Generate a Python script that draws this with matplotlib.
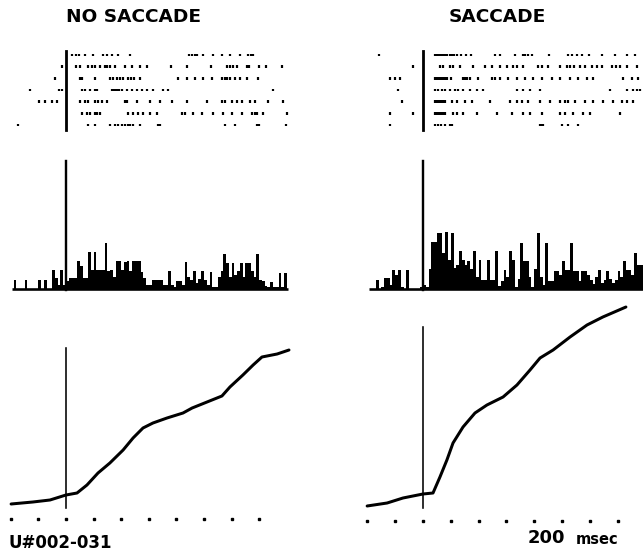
import matplotlib
matplotlib.use("Agg")
import matplotlib.pyplot as plt
import numpy as np

# spike times (ms, aligned on event at 0), one list per trial
raster_nosacc = [
    [22, 36, 47, 69, 98, 134, 149, 167, 188, 232, 446, 457, 467, 475, 496, 533, 565, 594, 630, 659, 670, 678],
    [-14, 36, 51, 80, 94, 105, 123, 141, 149, 159, 178, 214, 239, 268, 294, 380, 438, 525, 583, 594, 605,
     620, 656, 663, 699, 725, 783],
    [-40, 51, 58, 105, 159, 170, 185, 196, 206, 225, 235, 246, 268, 406, 438, 467, 496, 529, 565, 576, 585,
     594, 612, 630, 656, 696],
    [-130, -25, -14, 58, 69, 87, 105, 112, 167, 174, 181, 188, 192, 203, 221, 239, 257, 275, 293, 315, 351,
     370, 750],
    [-98, -76, -51, -33, 51, 69, 80, 105, 116, 130, 149, 214, 221, 257, 304, 341, 384, 438, 511, 565, 576,
     601, 620, 638, 667, 685, 732, 786],
    [58, 76, 87, 105, 112, 123, 225, 243, 261, 279, 304, 330, 420, 431, 460, 493, 533, 569, 601, 638, 674,
     685, 692, 714, 801],
    [-174, 80, 105, 159, 178, 188, 203, 214, 225, 232, 243, 268, 333, 341, 576, 612, 692, 699, 797],
]
raster_sacc = [
    [-158, 43, 50, 58, 65, 72, 79, 86, 97, 104, 112, 122, 137, 155, 173, 259, 277, 331, 360, 367, 378, 392,
     455, 520, 536, 554, 572, 597, 644, 691, 734, 763],
    [-36, 61, 72, 97, 108, 133, 180, 223, 248, 277, 302, 324, 338, 360, 414, 428, 450, 493, 518, 529, 543,
     565, 583, 608, 626, 644, 680, 694, 709, 734, 770],
    [-119, -101, -83, 43, 50, 58, 65, 72, 79, 86, 101, 144, 151, 158, 169, 198, 248, 259, 277, 306, 338, 367,
     396, 428, 464, 493, 529, 558, 590, 612, 719, 752, 773],
    [-90, 43, 54, 68, 79, 97, 115, 126, 144, 169, 194, 216, 338, 360, 385, 421, 673, 734, 755, 770, 781],
    [-76, 43, 50, 58, 65, 72, 79, 104, 122, 151, 176, 241, 313, 338, 356, 378, 421, 457, 493, 511, 522, 547,
     583, 612, 647, 683, 716, 734, 755],
    [-119, -36, 43, 50, 58, 65, 72, 79, 108, 122, 144, 194, 266, 320, 360, 385, 428, 493, 511, 540, 576, 601,
     709],
    [-119, 43, 54, 65, 79, 97, 104, 421, 428, 432, 500, 522, 558],
]

# peri-event histograms, 10 ms bins starting at -200 ms
hist_nosacc = [0, 9, 0, 0, 0, 9, 0, 0, 0, 0, 9, 0, 9, 0, 0, 19, 11, 4, 19, 4,
               8, 11, 11, 11, 28, 23, 11, 11, 37, 19, 37, 19, 19, 19, 46, 18, 19, 12, 28, 28,
               19, 27, 28, 18, 28, 28, 28, 17, 11, 4, 4, 9, 9, 9, 9, 4, 4, 18, 4, 2,
               8, 8, 4, 27, 12, 9, 18, 6, 10, 18, 9, 4, 17, 2, 2, 12, 18, 35, 26, 12,
               26, 14, 18, 26, 12, 26, 26, 18, 12, 35, 9, 8, 3, 2, 7, 2, 2, 16, 2, 16, 0]
hist_sacc = [0, 0, 0, 9, 0, 2, 11, 11, 4, 19, 14, 19, 2, 0, 19, 0, 0, 0, 0, 2,
             4, 2, 20, 47, 47, 56, 56, 36, 57, 29, 56, 21, 24, 38, 29, 24, 28, 20, 38, 12,
             29, 9, 9, 29, 9, 9, 38, 3, 8, 19, 12, 38, 29, 2, 10, 46, 28, 28, 12, 2,
             20, 56, 12, 4, 46, 8, 8, 18, 18, 14, 28, 19, 19, 46, 18, 18, 8, 18, 18, 14,
             9, 5, 12, 19, 6, 9, 18, 10, 6, 9, 18, 12, 28, 19, 19, 14, 36, 24, 24]
event_peak = 128

# cumulative spike count
cum_t_nosacc = [-199, -120, -58, 0, 40, 76, 116, 159, 207, 243, 279, 315, 366, 424, 457, 511, 565, 594,
                641, 678, 710, 765, 808]
cum_nosacc = [3, 5, 7, 12, 14, 22, 34, 44, 57, 69, 79, 84, 89, 94, 99, 105, 111, 120, 132, 142, 150, 153, 157]
cum_t_sacc = [-201, -129, -72, 0, 36, 61, 86, 108, 144, 187, 230, 288, 338, 385, 421, 468, 529, 590, 647, 730]
cum_sacc = [1, 4, 9, 13, 14, 30, 47, 64, 80, 94, 102, 110, 122, 137, 149, 157, 170, 182, 190, 200]

time_ticks = [-200, -100, 0, 100, 200, 300, 400, 500, 600, 700]

W, H = 643, 554
fig = plt.figure(figsize=(W / 100, H / 100), dpi=100)
PX = 0.72  # points per pixel


def px_axes(x0, y0, x1, y1):
    ax = fig.add_axes([x0 / W, 1 - y1 / H, (x1 - x0) / W, (y1 - y0) / H])
    ax.set_axis_off()
    return ax


def panel(x0, x1, t_left, t_right, spikes, hist, cum_t, cum, ev_top, hist_end, tick_y):
    # raster
    ax = px_axes(x0, 45, x1, 135)
    ax.set_xlim(t_left, t_right)
    ax.set_ylim(6.857, -0.857)
    ax.eventplot(spikes, lineoffsets=np.arange(len(spikes)), linelengths=0.24,
                 linewidths=2.2 * PX, colors='black')
    ax.plot([0, 0], [-0.3, 6.4], color='black', lw=2.8 * PX)

    # histogram
    ax = px_axes(x0, 150, x1, 295)
    ax.set_xlim(t_left, t_right)
    ax.set_ylim(-6, 139)
    edges = np.arange(len(hist) + 1) * 10 - 200
    ax.stairs(hist, edges, fill=True, color='black', baseline=0)
    ax.plot([edges[0] + 4, hist_end], [0, 0], color='black', lw=2.6 * PX, solid_capstyle='butt')
    ax.plot([0, 0], [-1, event_peak], color='black', lw=2.4 * PX)

    # cumulative
    ax = px_axes(x0, 300, x1, 530)
    ax.set_xlim(t_left, t_right)
    ax.set_ylim(-23, 207)
    ax.plot(cum_t, cum, color='black', lw=3.0 * PX, solid_capstyle='round', solid_joinstyle='round')
    ax.plot([0, 0], [-1, ev_top], color='black', lw=1.6 * PX)
    ax.plot(time_ticks, [tick_y] * len(time_ticks), ls='', marker='s', ms=2.0 * PX, color='black')


panel(0, 320, -239.1, 920.3, raster_nosacc, hist_nosacc, cum_t_nosacc, cum_nosacc, 159, 804, -12)
panel(320, 643, -370.5, 791.4, raster_sacc, hist_sacc, cum_t_sacc, cum_sacc, 180, 800, -14)

font = dict(family='DejaVu Sans', weight='bold', color='black')
fig.text(133 / W, 1 - 17 / H, 'NO SACCADE', ha='center', va='center', fontsize=13.3, **font)
fig.text(497 / W, 1 - 17 / H, 'SACCADE', ha='center', va='center', fontsize=13.3, **font)
fig.text(8 / W, 1 - 543 / H, 'U#002-031', ha='left', va='center', fontsize=12, **font)
fig.text(528 / W, 1 - 538 / H, '200', ha='left', va='center', fontsize=13, **font)
fig.text(576 / W, 1 - 540 / H, 'msec', ha='left', va='center', fontsize=10.5, **font)

fig.savefig('out.png', dpi=100)
